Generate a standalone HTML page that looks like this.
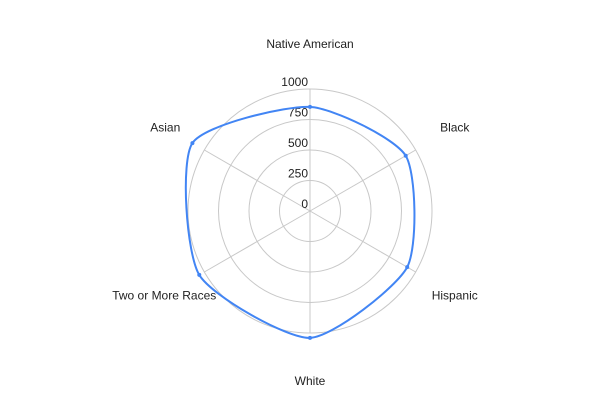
<!DOCTYPE html>
<html><head><meta charset="utf-8"><style>
html,body{margin:0;padding:0;background:#fff;}
svg{display:block;font-family:"Liberation Sans",Arial,sans-serif;}
</style></head><body>
<svg id="chart" width="600" height="401"></svg>
<script>
const categories=["Native American","Black","Hispanic","White","Two or More Races","Asian"];
const values=[853,906,920,1040,1048,1113];
const ticks=[0,250,500,750,1000];
const tickLabels=["0","250","500","750","1000"];
const NS="http://www.w3.org/2000/svg";
const svg=document.getElementById("chart");
const cx=310,cy=211,rMax=122,vMax=1000;
function rScale(v){return v/vMax*rMax;}
function ang(i){return -Math.PI/2+i*2*Math.PI/categories.length;}
function pt(i,v){const a=ang(i),r=rScale(v);return [cx+r*Math.cos(a),cy+r*Math.sin(a)];}
function mk(t,attrs,parent){const e=document.createElementNS(NS,t);for(const k in attrs)e.setAttribute(k,attrs[k]);(parent||svg).appendChild(e);return e;}
const grid=mk("g",{});


ticks.forEach((t,i)=>{if(t===0)return;
 const c=mk("circle",{cx:cx,cy:cy,r:rScale(t),fill:"none",stroke:"#c8c8c8","stroke-width":1},grid);
 
 
});
categories.forEach((c,i)=>{
 const p=pt(i,vMax);
 const l=mk("line",{x1:cx,y1:cy,x2:p[0],y2:p[1],stroke:"#c8c8c8","stroke-width":1},grid);
 
 
 const lp=pt(i,vMax*1.37);
 const dy=(i===2||i===4)?1:(i===3?3:0);
 const tx=mk("text",{x:lp[0]-(i===4?1:0),y:lp[1]+4+dy,"font-size":12,fill:"#222","text-anchor":"middle"});
 tx.textContent=c;
 
 
});
ticks.forEach((t,i)=>{
 const tx=mk("text",{x:cx-2,y:cy-rScale(t)-3,"font-size":12,fill:"#222","text-anchor":"end"});
 tx.textContent=tickLabels[i];
 
 
});
const P=values.map((v,i)=>pt(i,v));
const n=P.length,k=0.11;
let d="M"+P[0][0]+","+P[0][1];
for(let i=0;i<n;i++){
 const p0=P[(i-1+n)%n],p1=P[i],p2=P[(i+1)%n],p3=P[(i+2)%n];
 const c1=[p1[0]+(p2[0]-p0[0])*k,p1[1]+(p2[1]-p0[1])*k];
 const c2=[p2[0]-(p3[0]-p1[0])*k,p2[1]-(p3[1]-p1[1])*k];
 d+=" C"+c1[0]+","+c1[1]+" "+c2[0]+","+c2[1]+" "+p2[0]+","+p2[1];
}
const path=mk("path",{d:d,fill:"none",stroke:"#4285f4","stroke-width":2});


P.forEach((p,i)=>{
 const c=mk("circle",{cx:p[0],cy:p[1],r:2,fill:"#4285f4"});
 
 
});
</script>
</body></html>
